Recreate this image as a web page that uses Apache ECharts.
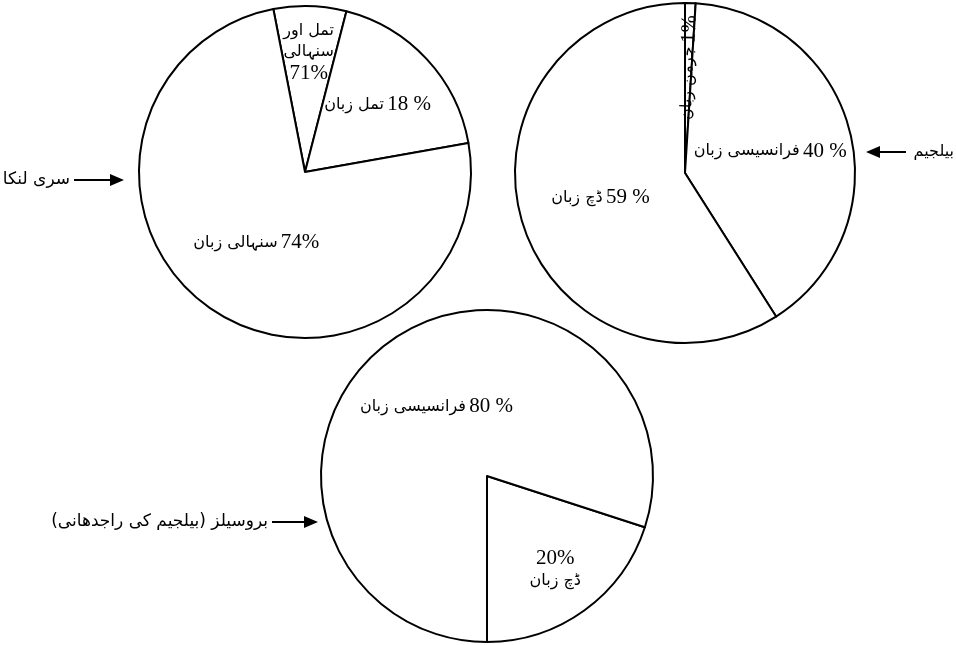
<!DOCTYPE html>
<html>
<head>
<meta charset="utf-8">
<script src="https://cdn.jsdelivr.net/npm/echarts@6/dist/echarts.min.js"></script>
<style>
html, body { margin: 0; background: #fff; }
#main { width: 956px; height: 645px; }
</style>
</head>
<body>
<div id="main"></div>
<script>
// سری لنکا
var sriLankaNames = ['تمل اور\nسنہالی', 'تمل زبان', 'سنہالی زبان'];
var sriLankaValues = [7, 18, 74];
var sriLankaTags = ['71%', '18 %', '74%'];

// بیلجیم
var belgiumNames = ['جرمن زبان', 'فرانسیسی زبان', 'ڈچ زبان'];
var belgiumValues = [1, 40, 59];
var belgiumTags = ['1%', '40 %', '59 %'];

// بروسیلز
var brusselsNames = ['ڈچ زبان', 'فرانسیسی زبان'];
var brusselsValues = [20, 80];
var brusselsTags = ['20%', '80 %'];

var chart = echarts.init(document.getElementById('main'));

function makeData(names, values, tags) {
    return names.map(function (n, i) {
        return { name: n, value: values[i], tag: tags[i] };
    });
}

// urdu words and number drawn as separate runs so the number stays on the right
function labelText(p) {
    var parts = p.name.split('\n');
    if (parts.length > 1) {
        return parts.map(function (s) { return '{ur|' + s + '}'; }).join('\n') + '\n{num|' + p.data.tag + '}';
    }
    return '{ur|' + p.name + '} {num|' + p.data.tag + '}';
}

function numberOnTop(p) {
    return '{num|' + p.data.tag + '}\n{ur|' + p.name + '}';
}

// move inside labels further out along their radius
function pushOut(center, scales) {
    return function (p) {
        var k = scales[p.dataIndex] || 1;
        var cx = p.labelRect.x + p.labelRect.width / 2;
        var cy = p.labelRect.y + p.labelRect.height / 2;
        return {
            x: center[0] + (cx - center[0]) * k,
            y: center[1] + (cy - center[1]) * k,
            align: 'center',
            verticalAlign: 'middle',
            hideOverlap: false
        };
    };
}

var rich = {
    ur: { fontFamily: '"DejaVu Sans"', fontSize: 16, color: '#000', lineHeight: 21 },
    num: { fontFamily: '"Liberation Serif"', fontSize: 21, color: '#000', lineHeight: 23 }
};

function pie(center, radius, startAngle, clockwise, data, scales) {
    return {
        type: 'pie',
        center: center,
        radius: radius,
        startAngle: startAngle,
        clockwise: clockwise,
        silent: true,
        avoidLabelOverlap: false,
        itemStyle: { color: '#fff', borderColor: '#000', borderWidth: 2 },
        label: { show: true, position: 'inside', formatter: labelText, rich: rich, color: '#000' },
        labelLine: { show: false },
        labelLayout: pushOut(center, scales),
        emphasis: { disabled: true },
        data: data
    };
}

var sriLankaData = makeData(sriLankaNames, sriLankaValues, sriLankaTags);

var belgiumData = makeData(belgiumNames, belgiumValues, belgiumTags);
belgiumData[0].label = { rotate: true };

var brusselsData = makeData(brusselsNames, brusselsValues, brusselsTags);
brusselsData[0].label = { formatter: numberOnTop };

var option = {
    backgroundColor: '#fff',
    animation: false,
    series: [
        pie([305, 172], 166, 101, true, sriLankaData, [1.4, 1.15, 1]),
        pie([685, 173], 170, 90, true, belgiumData, [1.2, 1, 1]),
        pie([487, 476], 166, 270, false, brusselsData, [1.35, 1])
    ],
    graphic: [
        { type: 'text', x: 70, y: 180, style: { text: 'سری لنکا', font: '17px "DejaVu Sans"', align: 'right', verticalAlign: 'middle', fill: '#000' } },
        { type: 'line', shape: { x1: 74, y1: 180, x2: 112, y2: 180 }, style: { stroke: '#000', lineWidth: 2 } },
        { type: 'polygon', shape: { points: [[110, 174], [124, 180], [110, 186]] }, style: { fill: '#000' } },

        { type: 'text', x: 954, y: 152, style: { text: 'بیلجیم', font: '16px "DejaVu Sans"', align: 'right', verticalAlign: 'middle', fill: '#000' } },
        { type: 'line', shape: { x1: 878, y1: 152, x2: 906, y2: 152 }, style: { stroke: '#000', lineWidth: 2 } },
        { type: 'polygon', shape: { points: [[880, 146], [866, 152], [880, 158]] }, style: { fill: '#000' } },

        { type: 'text', x: 268, y: 522, style: { text: 'بروسیلز (بیلجیم کی راجدھانی)\u200F', font: '17px "DejaVu Sans"', align: 'right', verticalAlign: 'middle', fill: '#000' } },
        { type: 'line', shape: { x1: 272, y1: 522, x2: 306, y2: 522 }, style: { stroke: '#000', lineWidth: 2 } },
        { type: 'polygon', shape: { points: [[304, 516], [318, 522], [304, 528]] }, style: { fill: '#000' } }
    ]
};

chart.setOption(option);
</script>
</body>
</html>
